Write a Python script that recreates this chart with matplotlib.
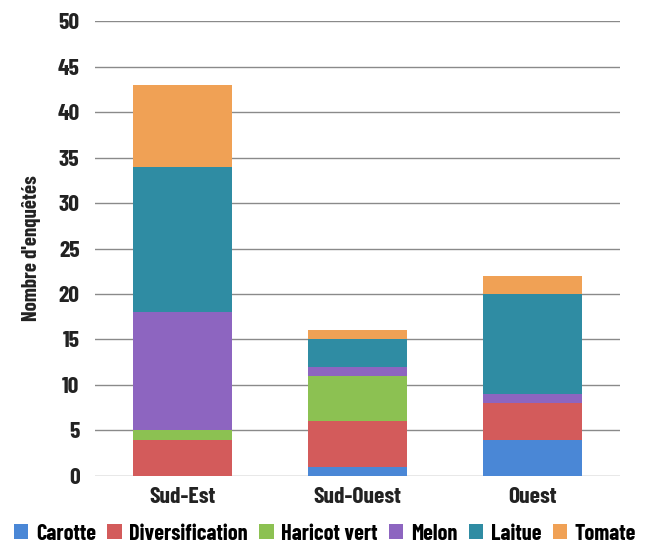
import matplotlib
matplotlib.use("Agg")
import matplotlib.pyplot as plt
from matplotlib.patches import Patch
import numpy as np

regions = ["Sud-Est", "Sud-Ouest", "Ouest"]
series_names = ["Carotte", "Diversification", "Haricot vert", "Melon", "Laitue", "Tomate"]
carotte = [0, 1, 4]
diversification = [4, 5, 4]
haricot_vert = [1, 5, 0]
melon = [13, 1, 1]
laitue = [16, 3, 11]
tomate = [9, 1, 2]
y_ticks = [0, 5, 10, 15, 20, 25, 30, 35, 40, 45, 50]

colors = ["#4a87d6", "#d35b5b", "#8cc152", "#8d65c0", "#2f8ca3", "#f0a155"]
series = [carotte, diversification, haricot_vert, melon, laitue, tomate]

family = ["Barlow Condensed", "DejaVu Sans"]
plt.rcParams["font.family"] = family
plt.rcParams["font.weight"] = 700

fig = plt.figure(figsize=(6.5, 5.43), dpi=100)
ax = fig.add_axes([0.146, 0.1234, 0.808, 0.8379])

x = np.arange(len(regions))
bottom = np.zeros(len(regions))
for vals, col in zip(series, colors):
    ax.bar(x, vals, width=0.57, bottom=bottom, color=col, zorder=2)
    bottom += np.array(vals)

ax.set_xlim(-0.5, 2.5)
ax.set_ylim(0, 50)
ax.set_yticks(y_ticks)
ax.set_yticklabels([str(t) for t in y_ticks], fontsize=17, fontweight=700, color="#222222")
ax.set_xticks(x)
ax.set_xticklabels(regions, fontsize=17, fontweight=700, color="#222222")
ax.yaxis.grid(True, color="#8a8a8a", linewidth=1.0, zorder=0)
ax.set_axisbelow(True)
ax.tick_params(axis="x", length=0, pad=8)
ax.tick_params(axis="y", length=0, pad=11)
for s in ax.spines.values():
    s.set_visible(False)

ax.set_ylabel("Nombre d'enquêtés", fontsize=15, fontweight=700, color="#222222", labelpad=12)

handles = [Patch(facecolor=c, edgecolor="none") for c in colors]
fig.legend(handles, series_names, loc="lower center", bbox_to_anchor=(0.5, -0.038),
           ncol=6, frameon=False, handlelength=0.65, handleheight=0.65,
           handletextpad=0.35, columnspacing=0.5,
           prop={"weight": 700, "size": 16, "family": family})

fig.savefig("out.png", dpi=100)
